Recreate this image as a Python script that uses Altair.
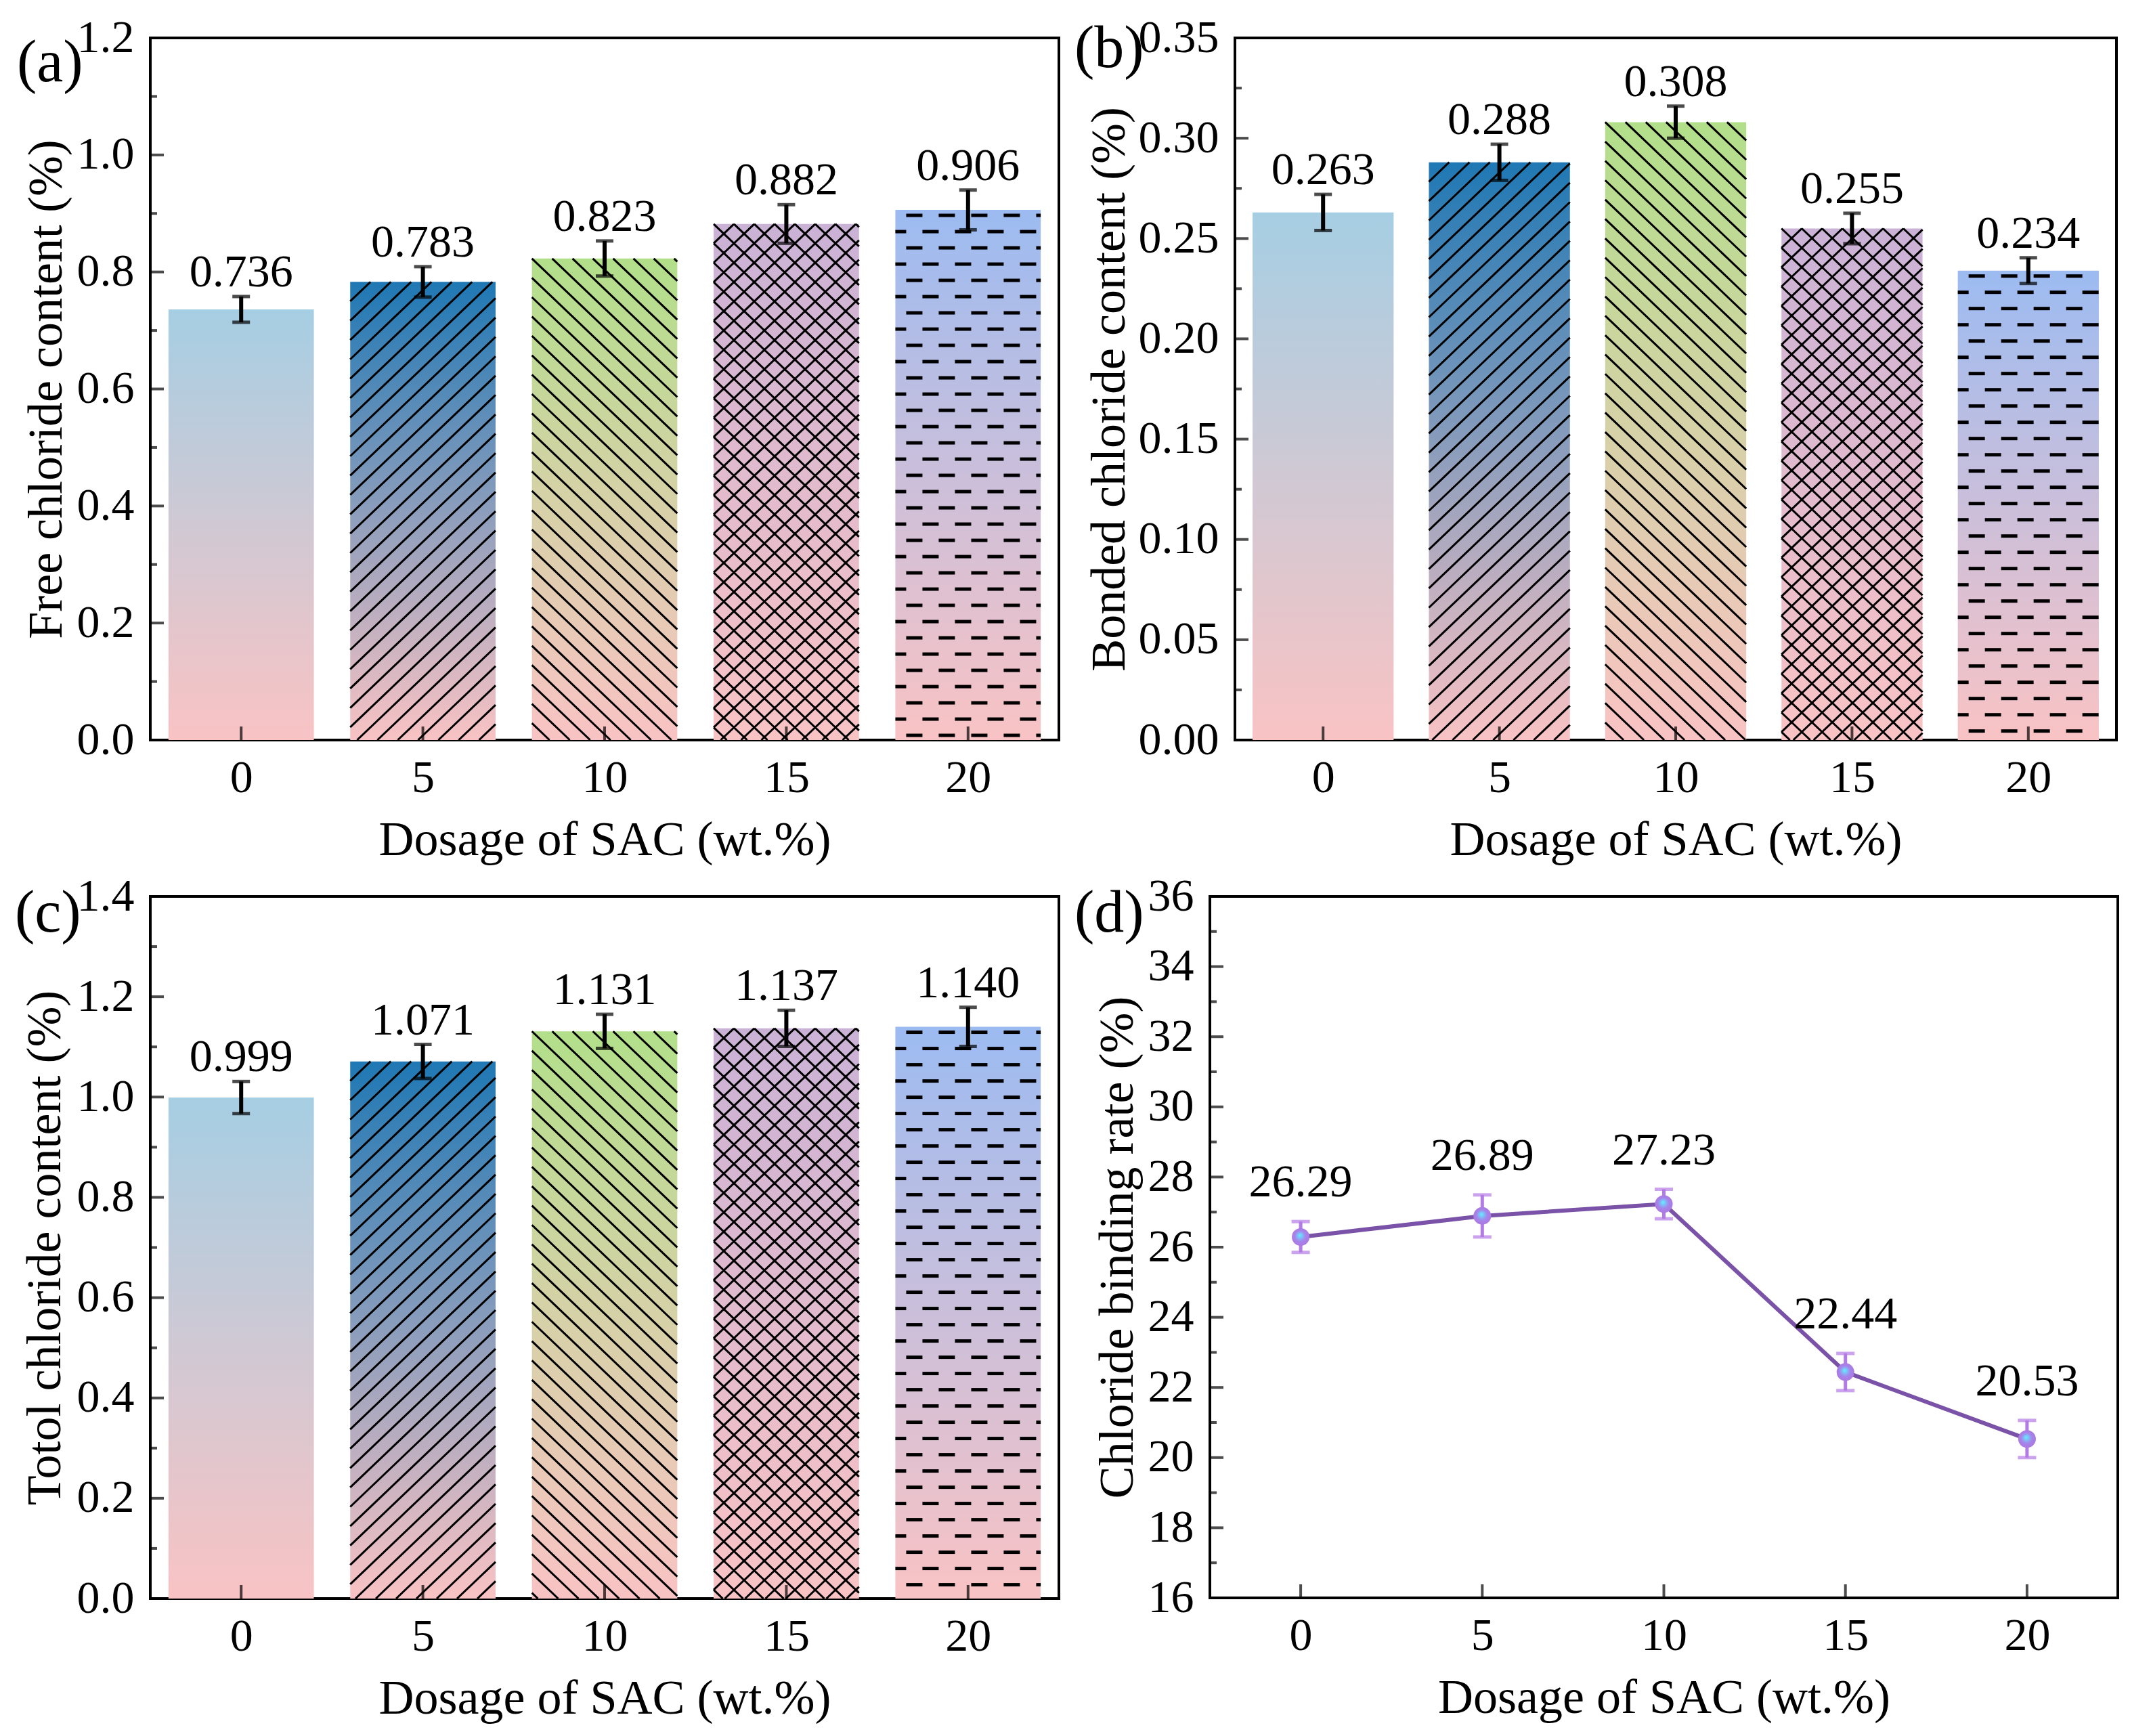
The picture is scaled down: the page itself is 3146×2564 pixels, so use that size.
import math
import altair as alt
import pandas as pd

FONT = "Liberation Serif"

# ---------------- data ----------------
dosage = [0, 5, 10, 15, 20]
free_cl = [0.736, 0.783, 0.823, 0.882, 0.906]
free_err = [0.022, 0.026, 0.030, 0.033, 0.034]
bonded_cl = [0.263, 0.288, 0.308, 0.255, 0.234]
bonded_err = [0.009, 0.009, 0.008, 0.0076, 0.0064]
total_cl = [0.999, 1.071, 1.131, 1.137, 1.140]
total_err = [0.032, 0.034, 0.034, 0.036, 0.039]
binding_rate = [26.29, 26.89, 27.23, 22.44, 20.53]
binding_err = [0.44, 0.60, 0.42, 0.53, 0.53]

ticks_a = [0.0, 0.2, 0.4, 0.6, 0.8, 1.0, 1.2]
minor_a = [0.1, 0.3, 0.5, 0.7, 0.9, 1.1]
ticks_b = [0.0, 0.05, 0.10, 0.15, 0.20, 0.25, 0.30, 0.35]
minor_b = [0.025, 0.075, 0.125, 0.175, 0.225, 0.275, 0.325]
ticks_c = [0.0, 0.2, 0.4, 0.6, 0.8, 1.0, 1.2, 1.4]
minor_c = [0.1, 0.3, 0.5, 0.7, 0.9, 1.1, 1.3]
ticks_d = [16, 18, 20, 22, 24, 26, 28, 30, 32, 34, 36]
minor_d = [17, 19, 21, 23, 25, 27, 29, 31, 33, 35]

x_title = "Dosage of SAC (wt.%)"
top_colors = ["#a6cee3", "#1f78b4", "#b2df8a", "#cab2d6", "#9cbbf1"]
bottom_color = "#f9c3c4"
hatch_kinds = ["none", "up", "down", "cross", "dash"]

XDOM = [-2.5, 22.5]
HALF_BAR = 2.0

# hatch geometry (pixels)
H_SLOPE = 28.6 / 30.0
H_VSP = 28.6
D_ROW0, D_ROWSP, D_LEN, D_PER = 8.0, 24.0, 24.0, 48.0


def hatch_segments(values, W, H, ymax):
    kx = W / (XDOM[1] - XDOM[0])
    ky = H / ymax
    rows = []
    for c, v, kind in zip(dosage, values, hatch_kinds):
        bw = 2 * HALF_BAR * kx
        bh = v * ky
        xl = c - HALF_BAR

        def add(u0, w0, u1, w1, sw):
            rows.append(dict(x=xl + u0 / kx, y=v - w0 / ky,
                             x2=xl + u1 / kx, y2=v - w1 / ky, sw=sw))

        if kind in ("up", "down", "cross"):
            slopes = {"up": [-H_SLOPE], "down": [H_SLOPE],
                      "cross": [H_SLOPE, -H_SLOPE]}[kind]
            for m in slopes:
                b_min = min(0.0, -m * bw)
                b_max = max(bh, bh - m * bw)
                for k in range(int(math.floor(b_min / H_VSP)) - 1,
                               int(math.ceil(b_max / H_VSP)) + 2):
                    b = k * H_VSP
                    ua, ub = -b / m, (bh - b) / m
                    lo = max(0.0, min(ua, ub))
                    hi = min(bw, max(ua, ub))
                    if hi - lo > 0.5:
                        add(lo, m * lo + b, hi, m * hi + b, 3)
        elif kind == "dash":
            r = 0
            w = D_ROW0
            while w < bh - 2:
                u = 16.0 if r % 2 == 0 else -8.0
                while u < bw:
                    a = max(0.0, u)
                    e = min(bw, u + D_LEN)
                    if e - a > 1:
                        add(a, w, e, w, 5)
                    u += D_PER
                r += 1
                w += D_ROWSP
    return pd.DataFrame(rows)


def frame_ticks(majors, minors, ymin):
    lay = []
    lay.append(alt.Chart(pd.DataFrame({"t": majors})).mark_tick(
        orient="horizontal", size=20, thickness=4, xOffset=10, color="black"
    ).encode(x=alt.X(datum=XDOM[0]), y=alt.Y("t:Q")))
    lay.append(alt.Chart(pd.DataFrame({"t": minors})).mark_tick(
        orient="horizontal", size=10, thickness=4, xOffset=5, color="black"
    ).encode(x=alt.X(datum=XDOM[0]), y=alt.Y("t:Q")))
    lay.append(alt.Chart(pd.DataFrame({"d": dosage})).mark_tick(
        orient="vertical", size=20, thickness=4, yOffset=-10, color="black"
    ).encode(x=alt.X("d:Q"), y=alt.Y(datum=ymin)))
    return lay


def tag_layer(tag, ymax, dx, dy):
    return alt.Chart(pd.DataFrame({"tag": [tag]})).mark_text(
        align="left", baseline="alphabetic", dx=dx, dy=dy, fontSize=88,
        font=FONT, color="black"
    ).encode(x=alt.X(datum=XDOM[0]), y=alt.Y(datum=ymax), text="tag:N")


def axes(majors, fmt, ytitle, title_x):
    xaxis = alt.Axis(values=dosage, format="d", title=x_title, ticks=False,
                     domain=False, grid=False, labelPadding=22, titlePadding=22)
    yaxis = alt.Axis(values=majors, format=fmt, title=ytitle, ticks=False,
                     domain=False, grid=False, labelPadding=24, titleX=title_x,
                     titleBaseline="middle")
    return xaxis, yaxis


def bar_panel(values, errs, ymax, majors, minors, fmt, ytitle, W, H,
              tag, tag_dx, tag_dy, title_x):
    df = pd.DataFrame({
        "dose": dosage,
        "value": values,
        "x0": [d - HALF_BAR for d in dosage],
        "x1": [d + HALF_BAR for d in dosage],
        "zero": [0.0] * 5,
        "lo": [v - e for v, e in zip(values, errs)],
        "hi": [v + e for v, e in zip(values, errs)],
        "label": [f"{v:.3f}" for v in values],
        "idx": list(range(5)),
    })
    xs = alt.Scale(domain=XDOM, nice=False, zero=False)
    ys = alt.Scale(domain=[0, ymax], nice=False, zero=False)
    xaxis, yaxis = axes(majors, fmt, ytitle, title_x)
    base = alt.Chart(df)
    layers = []
    for i in range(5):
        g = alt.LinearGradient(
            gradient="linear",
            stops=[alt.GradientStop(color=top_colors[i], offset=0),
                   alt.GradientStop(color=bottom_color, offset=1)],
            x1=0, x2=0, y1=0, y2=1)
        enc = dict(
            x=alt.X("x0:Q", scale=xs, axis=xaxis if i == 0 else alt.Undefined),
            x2="x1:Q",
            y=alt.Y("value:Q", scale=ys, axis=yaxis if i == 0 else alt.Undefined),
            y2="zero:Q",
        )
        layers.append(base.transform_filter(alt.datum.idx == i)
                      .mark_rect(fill=g).encode(**enc))
    hdf = hatch_segments(values, W, H, ymax)
    layers.append(alt.Chart(hdf).mark_rule(color="black", strokeCap="butt").encode(
        x=alt.X("x:Q", scale=xs), x2="x2:Q",
        y=alt.Y("y:Q", scale=ys), y2="y2:Q",
        strokeWidth=alt.StrokeWidth("sw:Q", scale=None)))
    layers.append(base.mark_rule(color="black", strokeWidth=6).encode(
        x=alt.X("dose:Q", scale=xs), y=alt.Y("lo:Q", scale=ys), y2="hi:Q"))
    for fld in ("lo", "hi"):
        layers.append(base.mark_tick(orient="horizontal", size=26, thickness=5,
                                     color="black").encode(
            x=alt.X("dose:Q", scale=xs), y=alt.Y(f"{fld}:Q", scale=ys)))
    layers.append(base.mark_text(baseline="alphabetic", dy=-15, fontSize=68,
                                 font=FONT, color="black").encode(
        x=alt.X("dose:Q", scale=xs), y=alt.Y("hi:Q", scale=ys), text="label:N"))
    layers += frame_ticks(majors, minors, 0)
    layers.append(tag_layer(tag, ymax, tag_dx, tag_dy))
    return alt.layer(*layers).properties(width=W, height=H)


def line_panel(values, errs, ymin, ymax, majors, minors, ytitle, W, H,
               tag, tag_dx, tag_dy, title_x):
    df = pd.DataFrame({
        "dose": dosage,
        "value": values,
        "lo": [v - e for v, e in zip(values, errs)],
        "hi": [v + e for v, e in zip(values, errs)],
        "label": [f"{v:.2f}" for v in values],
    })
    xs = alt.Scale(domain=XDOM, nice=False, zero=False)
    ys = alt.Scale(domain=[ymin, ymax], nice=False, zero=False)
    xaxis, yaxis = axes(majors, "d", ytitle, title_x)
    base = alt.Chart(df)
    ec = "#b37be6"
    lc = "#7a52a8"
    radial = alt.RadialGradient(
        gradient="radial",
        stops=[alt.GradientStop(color="#5ef2ff", offset=0),
               alt.GradientStop(color="#84b8f6", offset=0.28),
               alt.GradientStop(color="#a585ea", offset=0.55),
               alt.GradientStop(color="#ad76e0", offset=1)],
        x1=0.45, y1=0.4, r1=0, x2=0.5, y2=0.5, r2=0.55)
    layers = [
        base.mark_rule(color=ec, strokeWidth=5).encode(
            x=alt.X("dose:Q", scale=xs, axis=xaxis),
            y=alt.Y("lo:Q", scale=ys, axis=yaxis), y2="hi:Q"),
    ]
    for fld in ("lo", "hi"):
        layers.append(base.mark_tick(orient="horizontal", size=27, thickness=5,
                                     color=ec).encode(
            x=alt.X("dose:Q", scale=xs), y=alt.Y(f"{fld}:Q", scale=ys)))
    layers.append(base.mark_line(color=lc, strokeWidth=6).encode(
        x=alt.X("dose:Q", scale=xs), y=alt.Y("value:Q", scale=ys)))
    layers.append(base.mark_point(shape="circle", filled=True, size=680,
                                  fill=radial, opacity=1, strokeWidth=0).encode(
        x=alt.X("dose:Q", scale=xs), y=alt.Y("value:Q", scale=ys)))
    layers.append(base.mark_text(baseline="alphabetic", dy=-37, fontSize=68,
                                 font=FONT, color="black").encode(
        x=alt.X("dose:Q", scale=xs), y=alt.Y("hi:Q", scale=ys), text="label:N"))
    layers += frame_ticks(majors, minors, ymin)
    layers.append(tag_layer(tag, ymax, tag_dx, tag_dy))
    return alt.layer(*layers).properties(width=W, height=H)


pa = bar_panel(free_cl, free_err, 1.2, ticks_a, minor_a, ".1f",
               "Free chloride content (%)", 1342, 1037, "(a)", -197, 64, -154)
pb = bar_panel(bonded_cl, bonded_err, 0.35, ticks_b, minor_b, ".2f",
               "Bonded chloride content (%)", 1302, 1037, "(b)", -237, 43, -186)
pc = bar_panel(total_cl, total_err, 1.4, ticks_c, minor_c, ".1f",
               "Totol chloride content (%)", 1342, 1037, "(c)", -200, 52, -156)
pd_ = line_panel(binding_rate, binding_err, 16, 36, ticks_d, minor_d,
                 "Chloride binding rate (%)", 1341, 1036, "(d)", -200, 52, -137)

row1 = alt.hconcat(pa, pb, spacing=19)
row2 = alt.hconcat(pc, pd_, spacing=19)
chart = alt.vconcat(row1, row2, spacing=10).properties(
    padding={"left": 12, "top": 12, "right": 5, "bottom": 5}
).configure(font=FONT).configure_view(
    stroke="black", strokeWidth=4
).configure_axis(
    labelFont=FONT, titleFont=FONT, labelFontSize=68, titleFontSize=72,
    labelColor="black", titleColor="black", titleFontWeight="normal",
    labelFlush=False, labelOverlap=False
)

chart.save("out.html", embed_options={"renderer": "svg", "actions": False})
